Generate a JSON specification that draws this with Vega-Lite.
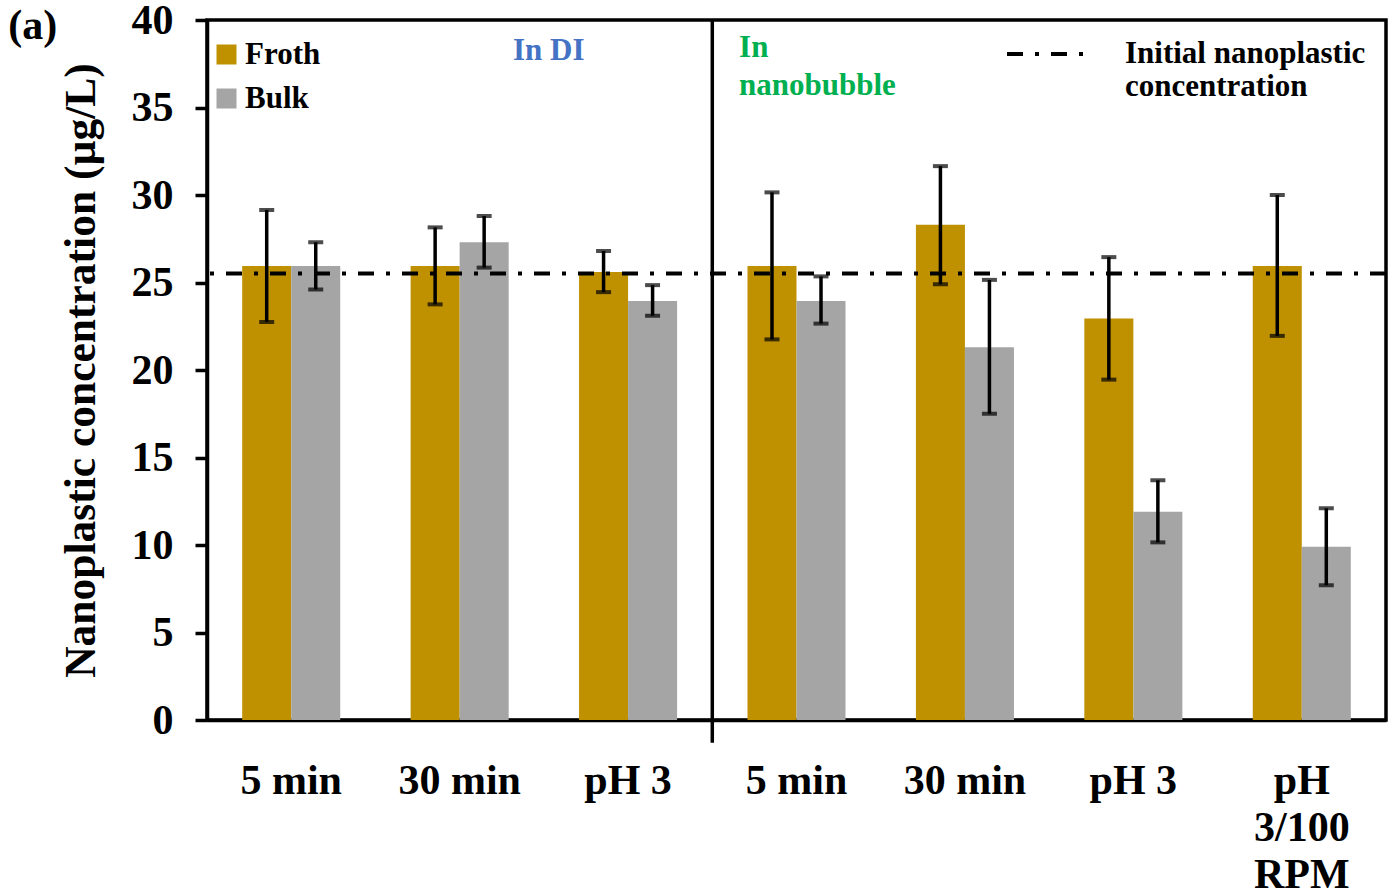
{
  "$schema": "https://vega.github.io/schema/vega-lite/v6.json",
  "width": 1179,
  "height": 700,
  "autosize": {"type": "none"},
  "padding": {"left": 207, "top": 20, "right": 7, "bottom": 174},
  "background": "white",
  "config": {
    "font": "Liberation Serif",
    "view": {"stroke": "black", "strokeWidth": 3.5},
    "axis": {
      "grid": false,
      "labelFont": "Liberation Serif",
      "labelFontWeight": "bold",
      "labelFontSize": 42,
      "labelColor": "black",
      "titleFont": "Liberation Serif",
      "titleFontWeight": "bold",
      "titleFontSize": 43.5,
      "titleColor": "black",
      "domainColor": "black",
      "domainWidth": 3.5,
      "tickColor": "black",
      "tickWidth": 3.5
    }
  },
  "datasets": {
    "bars": [
      {"group": "g1", "series": "Froth", "value": 25.95, "lo": 22.75, "hi": 29.15},
      {"group": "g1", "series": "Bulk", "value": 25.95, "lo": 24.6, "hi": 27.3},
      {"group": "g2", "series": "Froth", "value": 25.95, "lo": 23.75, "hi": 28.15},
      {"group": "g2", "series": "Bulk", "value": 27.3, "lo": 25.85, "hi": 28.8},
      {"group": "g3", "series": "Froth", "value": 25.6, "lo": 24.45, "hi": 26.8},
      {"group": "g3", "series": "Bulk", "value": 23.95, "lo": 23.1, "hi": 24.85},
      {"group": "g4", "series": "Froth", "value": 25.95, "lo": 21.75, "hi": 30.15},
      {"group": "g4", "series": "Bulk", "value": 23.95, "lo": 22.65, "hi": 25.35},
      {"group": "g5", "series": "Froth", "value": 28.3, "lo": 24.9, "hi": 31.65},
      {"group": "g5", "series": "Bulk", "value": 21.3, "lo": 17.5, "hi": 25.15},
      {"group": "g6", "series": "Froth", "value": 22.95, "lo": 19.45, "hi": 26.45},
      {"group": "g6", "series": "Bulk", "value": 11.9, "lo": 10.15, "hi": 13.7},
      {"group": "g7", "series": "Froth", "value": 25.95, "lo": 21.95, "hi": 30.0},
      {"group": "g7", "series": "Bulk", "value": 9.9, "lo": 7.7, "hi": 12.1}
    ]
  },
  "layer": [
    {
      "data": {"name": "bars"},
      "mark": {"type": "bar"},
      "encoding": {
        "x": {
          "field": "group", "type": "nominal",
          "scale": {"paddingInner": 0, "paddingOuter": 0},
          "axis": {
            "title": null, "labelAngle": 0, "ticks": false, "tickSize": 0,
            "labelPadding": 40, "labelLineHeight": 47, "labelOverlap": false,
            "labelExpr": "datum.value == 'g7' ? ['pH', '3/100', 'RPM'] : (datum.value == 'g1' || datum.value == 'g4') ? '5 min' : (datum.value == 'g2' || datum.value == 'g5') ? '30 min' : 'pH 3'"
          }
        },
        "xOffset": {
          "field": "series", "type": "nominal", "sort": ["Froth", "Bulk"],
          "scale": {"domain": ["Froth", "Bulk"], "paddingInner": 0, "paddingOuter": 0.718}
        },
        "y": {
          "field": "value", "type": "quantitative",
          "title": "Nanoplastic concentration (µg/L)",
          "scale": {"domain": [0, 40], "nice": false},
          "axis": {"values": [0, 5, 10, 15, 20, 25, 30, 35, 40], "tickSize": 12, "labelPadding": 22, "titlePadding": 28}
        },
        "color": {
          "field": "series", "type": "nominal", "sort": ["Froth", "Bulk"],
          "scale": {"domain": ["Froth", "Bulk"], "range": ["#BF9000", "#A5A5A5"]},
          "legend": {
            "title": null, "orient": "none", "legendX": 4, "legendY": 19,
            "symbolType": "square", "symbolSize": 400, "symbolStrokeWidth": 0, "symbolOpacity": 1,
            "labelFont": "Liberation Serif", "labelFontWeight": "bold", "labelFontSize": 31,
            "labelColor": "black", "rowPadding": 12, "labelOffset": 3, "padding": 0
          }
        }
      }
    },
    {
      "data": {"name": "bars"},
      "mark": {"type": "rule", "color": "black", "strokeWidth": 3.5},
      "encoding": {
        "x": {"field": "group", "type": "nominal"},
        "xOffset": {"field": "series", "type": "nominal", "sort": ["Froth", "Bulk"]},
        "y": {"field": "lo", "type": "quantitative", "title": "Nanoplastic concentration (µg/L)"},
        "y2": {"field": "hi"}
      }
    },
    {
      "data": {"name": "bars"},
      "mark": {"type": "tick", "color": "black", "size": 15, "thickness": 4, "orient": "horizontal"},
      "encoding": {
        "x": {"field": "group", "type": "nominal"},
        "xOffset": {"field": "series", "type": "nominal", "sort": ["Froth", "Bulk"]},
        "y": {"field": "lo", "type": "quantitative", "title": "Nanoplastic concentration (µg/L)"}
      }
    },
    {
      "data": {"name": "bars"},
      "mark": {"type": "tick", "color": "black", "size": 15, "thickness": 4, "orient": "horizontal"},
      "encoding": {
        "x": {"field": "group", "type": "nominal"},
        "xOffset": {"field": "series", "type": "nominal", "sort": ["Froth", "Bulk"]},
        "y": {"field": "hi", "type": "quantitative", "title": "Nanoplastic concentration (µg/L)"}
      }
    },
    {
      "data": {"values": [{"name": "Initial nanoplastic concentration", "value": 25.52}]},
      "mark": {"type": "rule", "color": "black", "strokeWidth": 4},
      "encoding": {
        "y": {"field": "value", "type": "quantitative", "title": "Nanoplastic concentration (µg/L)"},
        "strokeDash": {
          "field": "name", "type": "nominal",
          "scale": {"range": [[16, 12, 4, 12]]},
          "legend": {
            "title": null, "orient": "none", "legendX": 798, "legendY": -9,
            "symbolType": "stroke", "symbolSize": 6724, "symbolStrokeWidth": 4, "symbolStrokeColor": "black",
            "labelFont": "Liberation Serif", "labelFontWeight": "bold", "labelFontSize": 31,
            "labelColor": "black", "labelOffset": 34, "labelLineHeight": 36, "labelLimit": 400,
            "labelExpr": "['Initial nanoplastic', 'concentration']", "padding": 0
          }
        }
      }
    },
    {
      "data": {"values": [{"g": "g4", "top": 40, "bottom": -1.3}]},
      "mark": {"type": "rule", "color": "black", "strokeWidth": 3.5},
      "encoding": {
        "x": {"field": "g", "type": "nominal", "bandPosition": 0},
        "y": {"field": "top", "type": "quantitative", "title": "Nanoplastic concentration (µg/L)"},
        "y2": {"field": "bottom"}
      }
    },
    {
      "data": {"values": [{"t": "(a)", "g": "g1", "yv": 38.91}]},
      "mark": {"type": "text", "align": "left", "baseline": "alphabetic", "font": "Liberation Serif", "fontWeight": "bold", "fontSize": 42, "color": "black"},
      "encoding": {
        "x": {"field": "g", "type": "nominal", "bandPosition": -1.18},
        "y": {"field": "yv", "type": "quantitative", "title": "Nanoplastic concentration (µg/L)"},
        "text": {"field": "t"}
      }
    },
    {
      "data": {"values": [{"t": "In DI", "g": "g2", "yv": 37.71}]},
      "mark": {"type": "text", "align": "left", "baseline": "alphabetic", "font": "Liberation Serif", "fontWeight": "bold", "fontSize": 31, "color": "#4472C4"},
      "encoding": {
        "x": {"field": "g", "type": "nominal", "bandPosition": 0.817},
        "y": {"field": "yv", "type": "quantitative", "title": "Nanoplastic concentration (µg/L)"},
        "text": {"field": "t"}
      }
    },
    {
      "data": {"values": [{"t": "In\nnanobubble", "g": "g4", "yv": 37.9}]},
      "mark": {"type": "text", "align": "left", "baseline": "alphabetic", "font": "Liberation Serif", "fontWeight": "bold", "fontSize": 31, "color": "#00B050", "lineBreak": "\n", "lineHeight": 38},
      "encoding": {
        "x": {"field": "g", "type": "nominal", "bandPosition": 0.159},
        "y": {"field": "yv", "type": "quantitative", "title": "Nanoplastic concentration (µg/L)"},
        "text": {"field": "t"}
      }
    }
  ]
}
